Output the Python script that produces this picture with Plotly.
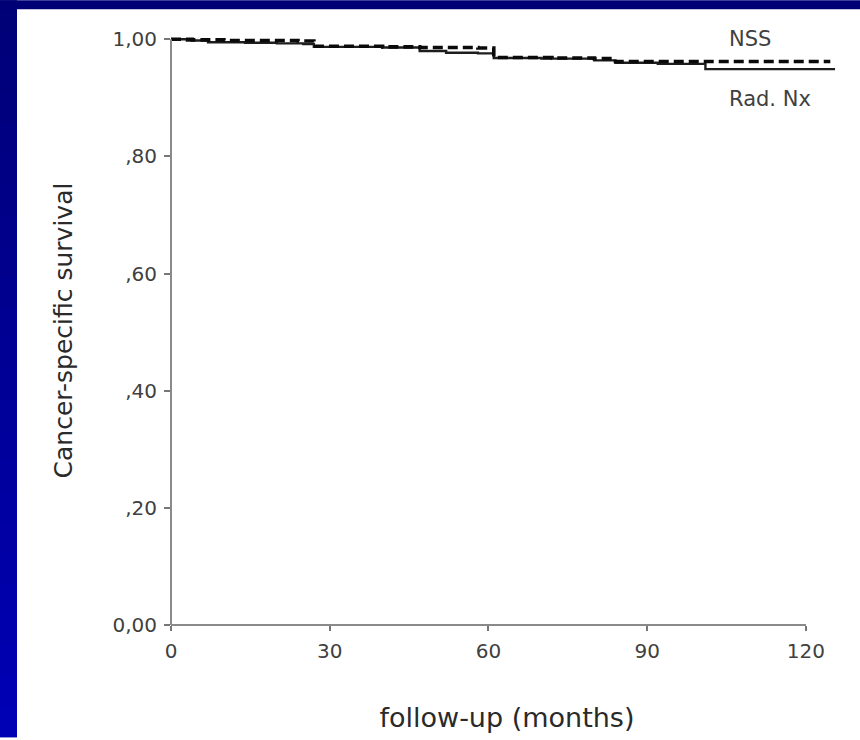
import plotly.graph_objects as go

# ---------------- data ----------------
nss_months = [0, 4, 10, 17, 24, 27, 40, 47, 58, 61, 72, 80, 84, 101, 124.6]
nss_survival = [1.000, 0.999, 0.998, 0.998, 0.997, 0.988, 0.987, 0.986, 0.985,
                0.969, 0.968, 0.967, 0.962, 0.962, 0.962]

radnx_months = [0, 3, 7, 14, 20, 25, 27, 40, 47, 52, 58, 61, 70, 80, 84, 92, 101, 125.5]
radnx_survival = [1.000, 0.998, 0.995, 0.994, 0.993, 0.992, 0.987, 0.986, 0.980,
                  0.977, 0.976, 0.968, 0.967, 0.964, 0.960, 0.958, 0.949, 0.949]

x_ticks = [0, 30, 60, 90, 120]
y_ticks = [0.0, 0.2, 0.4, 0.6, 0.8, 1.0]
y_tick_labels = ["0,00", ",20", ",40", ",60", ",80", "1,00"]

series_labels = ["NSS", "Rad. Nx"]

# ---------------- layout geometry ----------------
W, H = 860, 740
L, R, T, B = 171, 17, 36, 112
PW, PH = W - L - R, H - T - B


def px_to_paper_x(px):
    return (px - L) / PW


def px_to_paper_y(py):
    return (H - B - py) / PH


fig = go.Figure()

fig.add_trace(go.Scatter(
    x=radnx_months, y=radnx_survival, mode="lines", line_shape="hv",
    line=dict(color="#1e1e1e", width=2.4), name=series_labels[1],
    showlegend=False, hoverinfo="skip"))
fig.add_trace(go.Scatter(
    x=nss_months, y=nss_survival, mode="lines", line_shape="hv",
    line=dict(color="#0a0a0a", width=3.6, dash="10px,5px"), name=series_labels[0],
    showlegend=False, hoverinfo="skip"))

shapes = []
# background frame: blue top band and left gradient strip
top_c = (0, 0, 118)
bot_c = (0, 0, 182)
n_bands = 24
for i in range(n_bands):
    y0 = H * i / n_bands
    y1 = H * (i + 1) / n_bands + 1
    f = (i + 0.5) / n_bands
    c = tuple(int(round(top_c[k] + (bot_c[k] - top_c[k]) * f)) for k in range(3))
    shapes.append(dict(type="rect", xref="paper", yref="paper",
                       x0=px_to_paper_x(0), x1=px_to_paper_x(17),
                       y0=px_to_paper_y(y1), y1=px_to_paper_y(y0),
                       line=dict(width=0), fillcolor="rgb(%d,%d,%d)" % c, layer="below"))
shapes.append(dict(type="rect", xref="paper", yref="paper",
                   x0=px_to_paper_x(0), x1=px_to_paper_x(W),
                   y0=px_to_paper_y(9), y1=px_to_paper_y(0),
                   line=dict(width=0), fillcolor="rgb(0,0,118)", layer="below"))

# axis lines spanning the tick range
shapes.append(dict(type="line", xref="x", yref="paper",
                   x0=x_ticks[0], x1=x_ticks[-1], y0=0, y1=0,
                   line=dict(color="#8a8a8a", width=2)))
shapes.append(dict(type="line", xref="paper", yref="y",
                   x0=0, x1=0, y0=y_ticks[0], y1=y_ticks[-1],
                   line=dict(color="#8a8a8a", width=2)))

fig.update_layout(
    width=W, height=H,
    margin=dict(l=L, r=R, t=T, b=B, pad=0),
    paper_bgcolor="white", plot_bgcolor="white",
    shapes=shapes,
    annotations=[
        dict(x=105, y=1.0, xref="x", yref="y", text=series_labels[0], showarrow=False,
             xanchor="left", yanchor="middle",
             font=dict(family="DejaVu Sans", size=21, color="#404040")),
        dict(x=105, y=0.898, xref="x", yref="y", text=series_labels[1], showarrow=False,
             xanchor="left", yanchor="middle",
             font=dict(family="DejaVu Sans", size=21, color="#404040")),
    ],
    xaxis=dict(
        range=[0, 127], tickmode="array", tickvals=x_ticks,
        ticktext=[str(v) for v in x_ticks],
        showgrid=False, zeroline=False, showline=False,
        ticks="outside", ticklen=5, tickwidth=1.5, tickcolor="#777777",
        ticklabelstandoff=3,
        tickfont=dict(family="DejaVu Sans", size=20, color="#404040"),
        title=dict(text="follow-up (months)", standoff=46,
                   font=dict(family="DejaVu Sans", size=27, color="#2a2a2a")),
        fixedrange=True,
    ),
    yaxis=dict(
        range=[0, PH / 588.7], tickmode="array", tickvals=y_ticks,
        ticktext=y_tick_labels,
        showgrid=False, zeroline=False, showline=False,
        ticks="outside", ticklen=6, tickwidth=1.5, tickcolor="#777777",
        ticklabelstandoff=3,
        tickfont=dict(family="DejaVu Sans", size=20, color="#404040"),
        title=dict(text="Cancer-specific survival", standoff=32,
                   font=dict(family="DejaVu Sans", size=25, color="#2a2a2a")),
        fixedrange=True,
    ),
)

fig.write_html("out.html")
